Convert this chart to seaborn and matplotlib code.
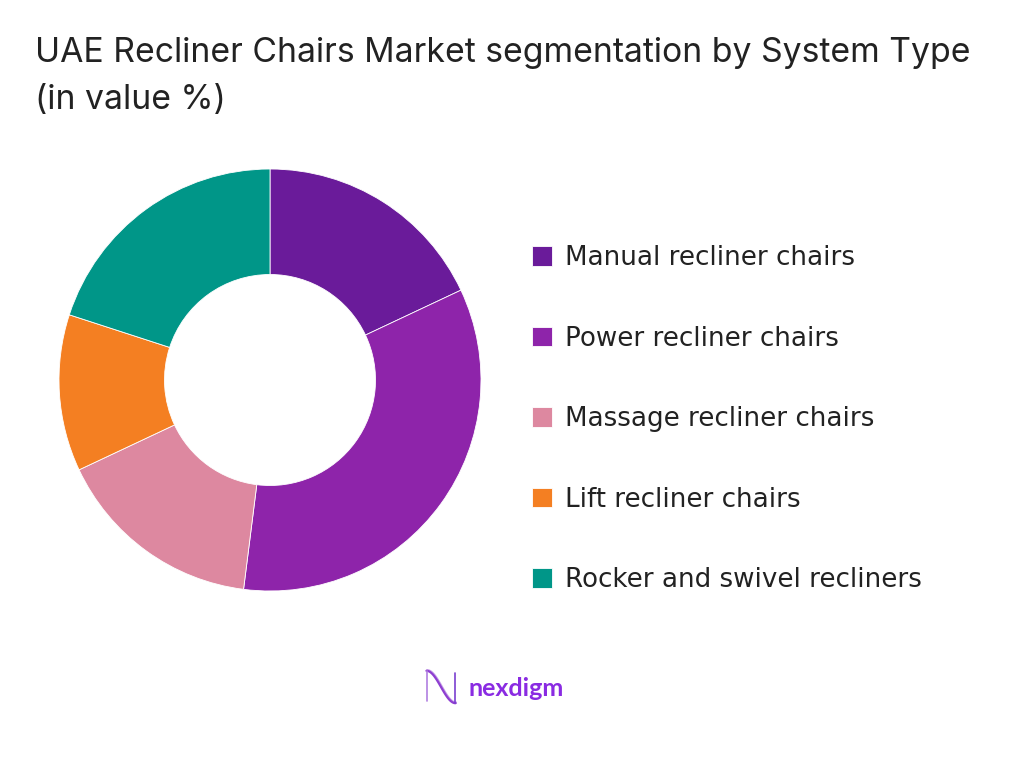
import numpy as np
import matplotlib
matplotlib.use("Agg")
import matplotlib.pyplot as plt
import seaborn as sns

categories = ["Manual recliner chairs", "Power recliner chairs", "Massage recliner chairs",
              "Lift recliner chairs", "Rocker and swivel recliners"]
values = [18, 34, 16, 12, 20]
colors = ["#6A1B9A", "#8E24AA", "#DD88A0", "#F47F22", "#009688"]

sns.set_theme(style="white")
plt.rcParams['font.family'] = ['Inter', 'DejaVu Sans']

W, H = 1024, 768
fig = plt.figure(figsize=(W / 100, H / 100), dpi=100)
fig.patch.set_facecolor("white")

# Title
fig.text(35 / W, 1 - 37 / H, "UAE Recliner Chairs Market segmentation by System Type\n(in value %)",
         ha="left", va="top", fontsize=24.3, color="#222222", linespacing=1.62,
         family=["Inter", "DejaVu Sans"])

# Donut
ax = fig.add_axes([59 / W, (H - 591) / H, 422 / W, 422 / H])
pal = sns.color_palette(colors)
wedges, _ = ax.pie(values, colors=pal, startangle=90, counterclock=False, radius=1.0,
                   wedgeprops=dict(width=0.5, edgecolor="white", linewidth=0.6))
ax.set_xlim(-1, 1)
ax.set_ylim(-1, 1)
ax.set_aspect("auto")
ax.axis("off")

# Legend
leg = fig.legend(wedges, categories, loc="upper left", bbox_to_anchor=(532 / W, 1 - 245 / H),
                 frameon=False, labelspacing=2.09, handlelength=0.78,
                 handleheight=0.78, handletextpad=0.5, borderaxespad=0, borderpad=0,
                 prop={"family": ["DejaVu Sans"], "size": 18.8})
for t in leg.get_texts():
    t.set_color("#222222")

# Logo
lax = fig.add_axes([425 / W, (H - 705) / H, 32 / W, 36 / H])
tt = np.linspace(0, 1, 100)
for off, a in [(0.0, 1.0), (0.08, 0.5)]:
    lax.plot(tt + off * 0.3, 0.5 + 0.45 * np.sin((tt - 0.5) * np.pi) * -1 + off * 0.2,
             color="#8E3FD1", alpha=a, lw=1.6)
lax.plot([0.02, 0.02], [0.1, 0.95], color="#B07FE0", lw=1.2)
lax.plot([0.98, 0.98], [0.05, 0.9], color="#7A3FD0", lw=1.2)
lax.set_xlim(-0.05, 1.05)
lax.set_ylim(0, 1)
lax.axis("off")
fig.text(469 / W, 1 - 688 / H, "nexdigm", ha="left", va="center", fontsize=18,
         color="#8A2BE2", fontweight="bold", family=["Lato", "DejaVu Sans"])

fig.savefig("out.png", dpi=100, facecolor="white")
